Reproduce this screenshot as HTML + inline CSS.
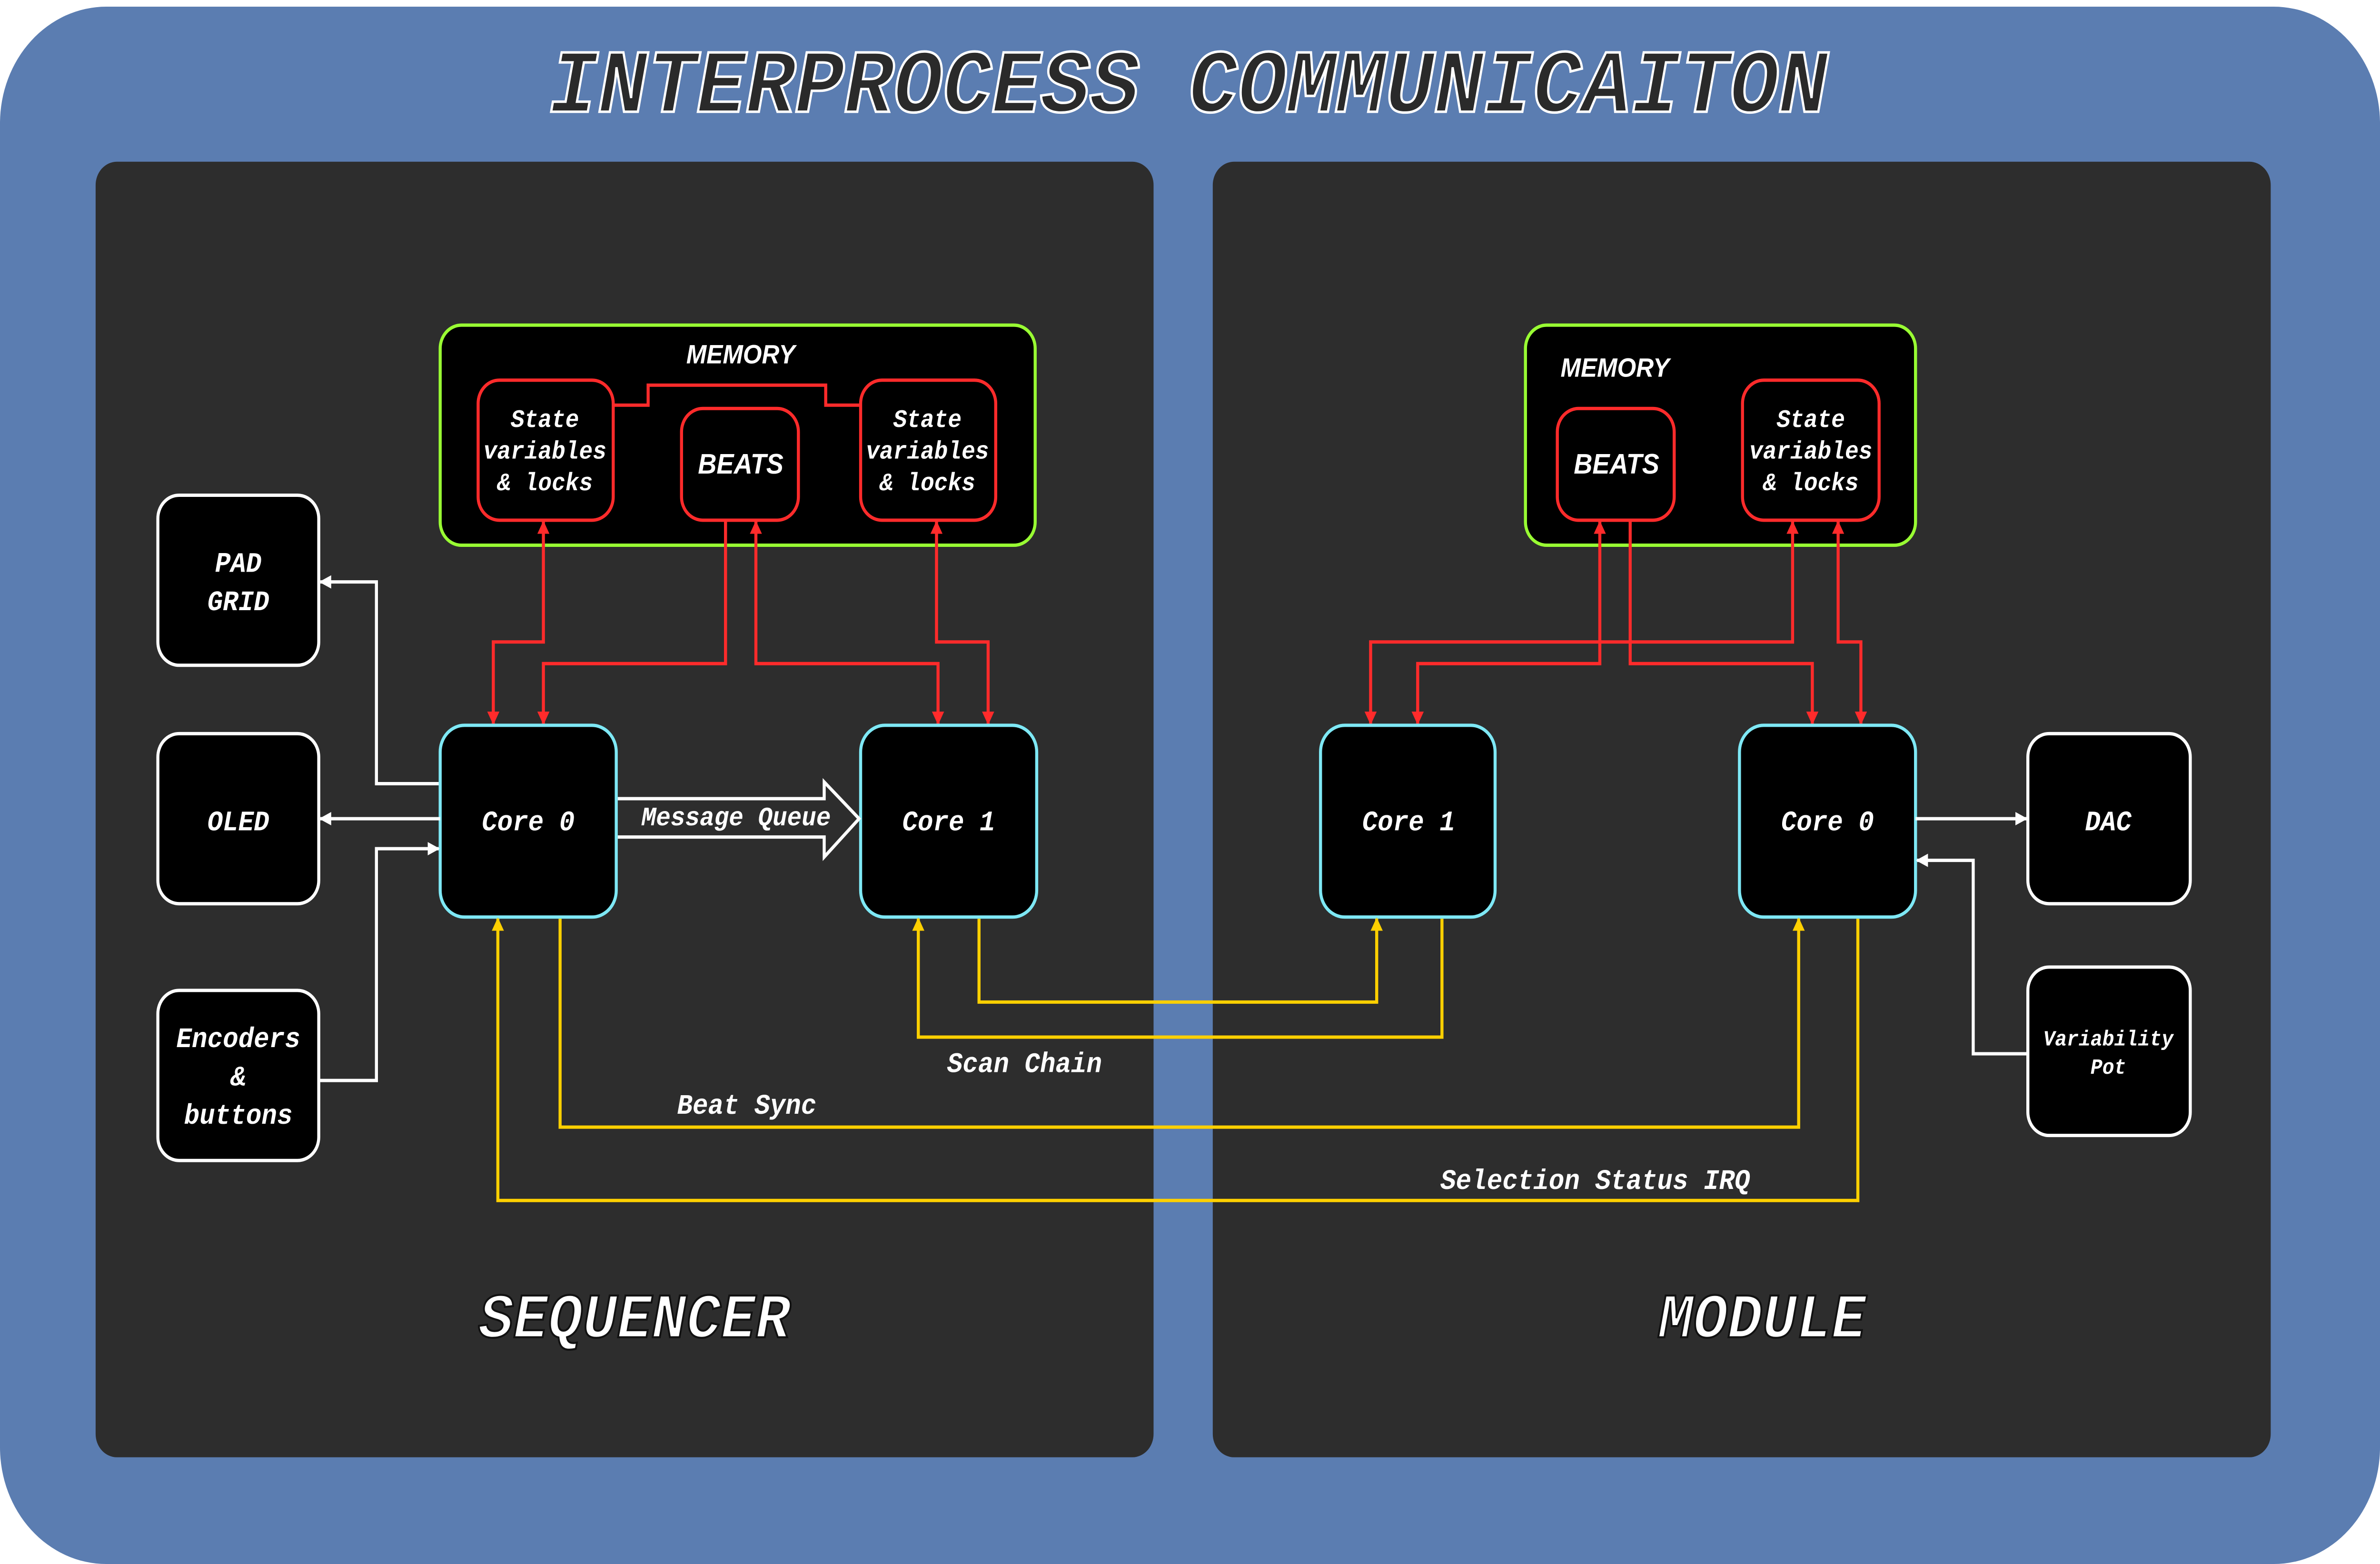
<!DOCTYPE html>
<html><head><meta charset="utf-8"><style>
html,body{margin:0;padding:0;background:#fff;width:100%;height:100%;overflow:hidden;}
svg{display:block;width:100vw;height:100vh;}
text{font-family:"Liberation Mono",monospace;font-weight:bold;font-style:italic;fill:#fff;text-anchor:middle;}
.s{font-family:"Liberation Sans",sans-serif;}
</style></head><body>
<svg viewBox="0 0 1568 938" preserveAspectRatio="none" xmlns="http://www.w3.org/2000/svg">
<defs>
<marker id="r" viewBox="0 0 10 10" refX="9" refY="5" markerWidth="4" markerHeight="4" orient="auto-start-reverse"><path d="M0,0L10,5L0,10z" fill="#ff2b2b"/></marker>
<marker id="w" viewBox="0 0 10 10" refX="9" refY="5" markerWidth="4" markerHeight="4" orient="auto"><path d="M0,0L10,5L0,10z" fill="#fff"/></marker>
<marker id="y" viewBox="0 0 10 10" refX="9" refY="5" markerWidth="4" markerHeight="4" orient="auto"><path d="M0,0L10,5L0,10z" fill="#ffd000"/></marker>
</defs>
<rect x="0" y="4" width="1568" height="934" rx="70" fill="#5b7db1"/>
<rect x="63" y="97" width="697" height="777" rx="14" fill="#2d2d2d"/>
<rect x="799" y="97" width="697" height="777" rx="14" fill="#2d2d2d"/>
<text x="783" y="67" style="font-size:54px;fill:#2a2a2a;stroke:#fff;stroke-width:1.5">INTERPROCESS COMMUNICAITON</text>

<rect x="290" y="195" width="392" height="132" rx="14" fill="#000" stroke="#9f3" stroke-width="2"/>
<text class="s" x="488" y="218" style="font-size:16px">MEMORY</text>
<rect x="315" y="228" width="89" height="84" rx="14" fill="#000" stroke="#ff2b2b" stroke-width="2"/>
<rect x="449" y="245" width="77" height="67" rx="14" fill="#000" stroke="#ff2b2b" stroke-width="2"/>
<rect x="567" y="228" width="89" height="84" rx="14" fill="#000" stroke="#ff2b2b" stroke-width="2"/>
<polyline points="404,243 427,243 427,231 544,231 544,243 567,243" fill="none" stroke="#ff2b2b" stroke-width="2"/>
<g style="font-size:15px"><text x="359" y="256">State</text><text x="359" y="275">variables</text><text x="359" y="294">&amp; locks</text>
<text x="611" y="256">State</text><text x="611" y="275">variables</text><text x="611" y="294">&amp; locks</text></g>
<text class="s" x="488" y="284" style="font-size:17px">BEATS</text>

<rect x="1005" y="195" width="257" height="132" rx="14" fill="#000" stroke="#9f3" stroke-width="2"/>
<text class="s" x="1064" y="226" style="font-size:16px">MEMORY</text>
<rect x="1026" y="245" width="77" height="67" rx="14" fill="#000" stroke="#ff2b2b" stroke-width="2"/>
<rect x="1148" y="228" width="90" height="84" rx="14" fill="#000" stroke="#ff2b2b" stroke-width="2"/>
<text class="s" x="1065" y="284" style="font-size:17px">BEATS</text>
<g style="font-size:15px"><text x="1193" y="256">State</text><text x="1193" y="275">variables</text><text x="1193" y="294">&amp; locks</text></g>

<g fill="none" stroke="#ff2b2b" stroke-width="2">
<polyline points="325,434 325,385 358,385 358,313" marker-start="url(#r)" marker-end="url(#r)"/>
<polyline points="478,312 478,398 358,398 358,434" marker-end="url(#r)"/>
<polyline points="618,434 618,398 498,398 498,313" marker-start="url(#r)" marker-end="url(#r)"/>
<polyline points="651,434 651,385 617,385 617,313" marker-start="url(#r)" marker-end="url(#r)"/>
<polyline points="934,434 934,398 1054,398 1054,313" marker-start="url(#r)" marker-end="url(#r)"/>
<polyline points="1074,312 1074,398 1194,398 1194,434" marker-end="url(#r)"/>
<polyline points="903,434 903,385 1181,385 1181,313" marker-start="url(#r)" marker-end="url(#r)"/>
<polyline points="1226,434 1226,385 1211,385 1211,313" marker-start="url(#r)" marker-end="url(#r)"/>
</g>

<g fill="#000" stroke="#fff" stroke-width="2">
<rect x="104" y="297" width="106" height="102" rx="14"/>
<rect x="104" y="440" width="106" height="102" rx="14"/>
<rect x="104" y="594" width="106" height="102" rx="14"/>
<rect x="1336" y="440" width="107" height="102" rx="14"/>
<rect x="1336" y="580" width="107" height="101" rx="14"/>
</g>
<g style="font-size:17px"><text x="157" y="343">PAD</text><text x="157" y="366">GRID</text>
<text x="157" y="498">OLED</text>
<text x="157" y="628">Encoders</text><text x="157" y="651">&amp;</text><text x="157" y="674">buttons</text>
<text x="1389" y="498">DAC</text></g>
<g style="font-size:13px"><text x="1389" y="627">Variability</text><text x="1389" y="644">Pot</text></g>

<g fill="#000" stroke="#7ee8f5" stroke-width="2">
<rect x="290" y="435" width="116" height="115" rx="16"/>
<rect x="567" y="435" width="116" height="115" rx="16"/>
<rect x="870" y="435" width="115" height="115" rx="16"/>
<rect x="1146" y="435" width="116" height="115" rx="16"/>
</g>
<g style="font-size:17px"><text x="348" y="498">Core 0</text><text x="625" y="498">Core 1</text>
<text x="928" y="498">Core 1</text><text x="1204" y="498">Core 0</text></g>

<g fill="none" stroke="#fff" stroke-width="2">
<polyline points="289,470 248,470 248,349 211,349" marker-end="url(#w)"/>
<line x1="290" y1="491" x2="211" y2="491" marker-end="url(#w)"/>
<polyline points="210,648 248,648 248,509 289,509" marker-end="url(#w)"/>
<line x1="1262" y1="491" x2="1335" y2="491" marker-end="url(#w)"/>
<polyline points="1336,632 1300,632 1300,516 1263,516" marker-end="url(#w)"/>
<path d="M407,479 H543 V469 L566,491 L543,514 V502 H407"/>
</g>
<text x="485" y="495" style="font-size:16px">Message Queue</text>

<g fill="none" stroke="#ffd000" stroke-width="2">
<polyline points="645,551 645,601 907,601 907,551" marker-end="url(#y)"/>
<polyline points="950,551 950,622 605,622 605,551" marker-end="url(#y)"/>
<polyline points="369,551 369,676 1185,676 1185,551" marker-end="url(#y)"/>
<polyline points="1224,551 1224,720 328,720 328,551" marker-end="url(#y)"/>
</g>
<g style="font-size:17px"><text x="675" y="643">Scan Chain</text><text x="492" y="668">Beat Sync</text><text x="1051" y="713">Selection Status IRQ</text></g>

<g style="font-size:38px;fill:#fff;stroke:#111;stroke-width:1.2">
<text x="418" y="802">SEQUENCER</text><text x="1161" y="802">MODULE</text></g>
</svg>
</body></html>
